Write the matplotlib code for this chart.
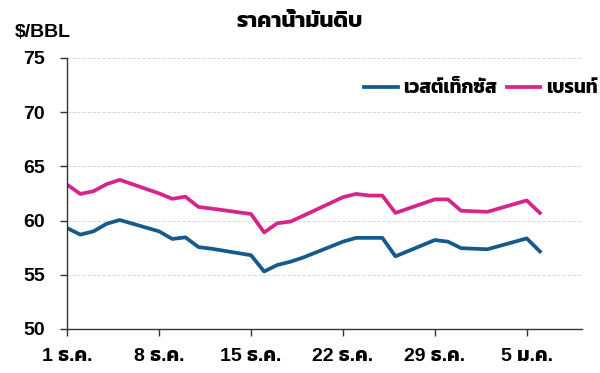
import matplotlib
matplotlib.use("Agg")
import matplotlib.pyplot as plt
import pandas as pd
import os
from matplotlib import font_manager, ft2font

# ---- data ----
dates = ["2025-12-01", "2025-12-02", "2025-12-03", "2025-12-04", "2025-12-05",
         "2025-12-08", "2025-12-09", "2025-12-10", "2025-12-11", "2025-12-12",
         "2025-12-15", "2025-12-16", "2025-12-17", "2025-12-18", "2025-12-19",
         "2025-12-22", "2025-12-23", "2025-12-24", "2025-12-25", "2025-12-26",
         "2025-12-29", "2025-12-30", "2025-12-31",
         "2026-01-02", "2026-01-05", "2026-01-06"]
wti = [59.30, 58.70, 59.00, 59.70, 60.05,
       59.00, 58.30, 58.45, 57.55, 57.40,
       56.80, 55.30, 55.90, 56.20, 56.60,
       58.05, 58.40, 58.40, 58.40, 56.70,
       58.20, 58.05, 57.45,
       57.35, 58.35, 57.15]
brent = [63.30, 62.45, 62.70, 63.35, 63.75,
         62.50, 62.00, 62.20, 61.25, 61.10,
         60.60, 58.90, 59.75, 59.90, 60.45,
         62.15, 62.45, 62.30, 62.30, 60.70,
         61.95, 61.95, 60.90,
         60.80, 61.85, 60.70]
tick_dates = ["2025-12-01", "2025-12-08", "2025-12-15", "2025-12-22", "2025-12-29", "2026-01-05"]
tick_labels = ["1 ธ.ค.", "8 ธ.ค.", "15 ธ.ค.", "22 ธ.ค.", "29 ธ.ค.", "5 ม.ค."]
series_names = ["เวสต์เท็กซัส", "เบรนท์"]

# ---- pick a loopless Thai font if one is installed ----
thai_files = {}
for f in font_manager.findSystemFonts():
    try:
        if 0x0E23 in ft2font.FT2Font(f).get_charmap():
            thai_files[os.path.basename(f)] = f
    except Exception:
        pass
thai_family = None
for want in ["Kanit-SemiBold.ttf", "Kanit-Medium.ttf", "Prompt-SemiBold.ttf", "Prompt-Medium.ttf",
             "Mitr-Medium.ttf", "Athiti-Bold.ttf", "Loma-Bold.otf"]:
    if want in thai_files:
        font_manager.fontManager.addfont(thai_files[want])
        thai_family = font_manager.FontProperties(fname=thai_files[want]).get_name()
        break
families = ["Liberation Sans"] + ([thai_family] if thai_family else []) + ["DejaVu Sans"]
plt.rcParams["font.family"] = families
plt.rcParams["font.weight"] = "bold"

x = pd.to_datetime(dates)

fig = plt.figure(figsize=(6, 3.73), dpi=100)
ax = fig.add_axes([0.112, 0.118, 0.858, 0.727])

blue = "#145a8c"
pink = "#d6258a"
ax.plot(x, wti, color=blue, lw=2.7, label=series_names[0])
ax.plot(x, brent, color=pink, lw=2.7, label=series_names[1])

ax.set_ylim(50, 75)
ax.set_yticks([50, 55, 60, 65, 70, 75])
ax.set_xlim(pd.Timestamp("2025-12-01"), pd.Timestamp("2026-01-09 05:00"))
ax.set_xticks(pd.to_datetime(tick_dates))
ax.set_xticklabels(tick_labels)

for v in [55, 60, 65, 70, 75]:
    ax.axhline(v, color="#d0d0d0", lw=0.6, ls=(0, (4, 2)), zorder=0)

for s in ["top", "right"]:
    ax.spines[s].set_visible(False)
for s in ["left", "bottom"]:
    ax.spines[s].set_color("#333333")
    ax.spines[s].set_linewidth(1.0)
ax.tick_params(axis="both", direction="out", length=5, width=1.0, color="#333333",
               labelsize=14)
ax.tick_params(axis="y", pad=11)
ax.tick_params(axis="x", pad=9)

fig.text(0.5, 0.943, "ราคาน้ำมันดิบ", ha="center", va="center", fontsize=16, fontweight="bold")
fig.text(0.025, 0.912, "$/BBL", ha="left", va="center", fontsize=14, fontweight="bold")

ax.legend(loc="upper right", bbox_to_anchor=(1.045, 0.945), ncol=2, frameon=False,
          fontsize=13.5, handlelength=1.8, handletextpad=0.3, columnspacing=0.5,
          borderaxespad=0)

fig.savefig("out.png", dpi=100)
